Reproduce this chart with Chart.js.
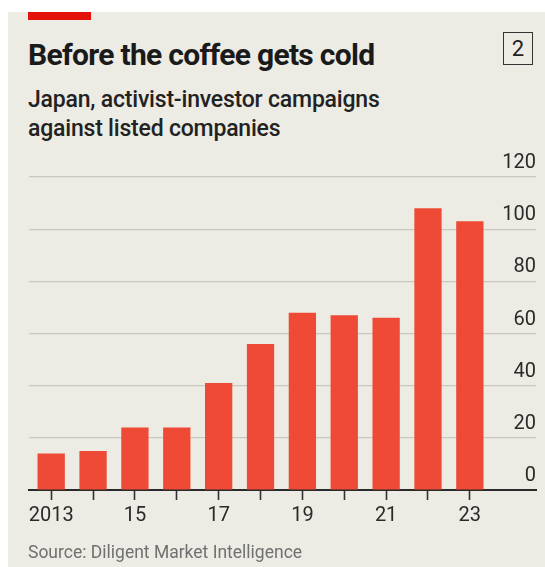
<!DOCTYPE html>
<html>
<head>
<meta charset="utf-8">
<script src="https://cdn.jsdelivr.net/npm/chart.js@4.4.1/dist/chart.umd.min.js"></script>
<style>
  html, body { margin: 0; padding: 0; background: #fff; }
  body { width: 545px; height: 567px; position: relative; overflow: hidden; font-family: Roboto, "Liberation Sans", sans-serif; }
  .panel { position: absolute; left: 8px; top: 12px; right: 0; bottom: 0; background: #ecebe4; }
  .tag { position: absolute; left: 28px; top: 12px; width: 63px; height: 8px; background: #e3120b; }
  .title { position: absolute; left: 28px; top: 37px; font-size: 30px; font-weight: 700; color: #1a1a1a; letter-spacing: -0.7px; white-space: nowrap; }
  .subtitle { position: absolute; left: 28px; top: 85px; font-size: 23px; font-weight: 500; color: #222; line-height: 29px; letter-spacing: -0.2px; white-space: nowrap; }
  .num { position: absolute; left: 503px; top: 32px; width: 28px; height: 31px; border: 1.6px solid #333; font-size: 22px; color: #222; text-align: center; line-height: 31px; }
  .source { position: absolute; left: 28px; top: 542px; font-size: 17.5px; color: #707070; white-space: nowrap; }
  #chart { position: absolute; left: 0; top: 0; }
</style>
</head>
<body>
<div class="panel"></div>
<div class="tag"></div>
<div class="title">Before the coffee gets cold</div>
<div class="num">2</div>
<div class="subtitle">Japan, activist-investor campaigns<br>against listed companies</div>
<canvas id="chart" width="545" height="567"></canvas>
<div class="source">Source: Diligent Market Intelligence</div>

<script>
// activist campaigns per year
const years = [2013, 2014, 2015, 2016, 2017, 2018, 2019, 2020, 2021, 2022, 2023];
const campaigns = [14, 15, 24, 24, 41, 56, 68, 67, 66, 108, 103];
const yTicks = [0, 20, 40, 60, 80, 100, 120];
const xTickLabels = ['2013', '', '15', '', '17', '', '19', '', '21', '', '23'];

const points = years.map((y, i) => ({ x: y, y: campaigns[i] }));

const ctx = document.getElementById('chart').getContext('2d');
new Chart(ctx, {
    type: 'bar',
    data: {
        datasets: [{
            data: points,
            backgroundColor: '#ee4a35',
            borderWidth: 0,
            categoryPercentage: 1,
            barPercentage: 0.652
        }]
    },
    options: {
        responsive: false,
        animation: false,
        layout: { padding: { left: 29, right: 9, top: 177, bottom: 0 } },
        plugins: { legend: { display: false }, tooltip: { enabled: false } },
        scales: {
            x: {
                type: 'linear',
                offset: false,
                min: 2012.47,
                max: 2024.58,
                afterBuildTicks: (axis) => { axis.ticks = years.map(v => ({ value: v })); },
                afterFit: (axis) => { axis.height = 77; },
                grid: {
                    display: true,
                    offset: false,
                    drawOnChartArea: false,
                    drawTicks: true,
                    tickLength: 10,
                    tickColor: '#333',
                    tickWidth: 1.6
                },
                border: { display: true, color: '#2a2a2a', width: 2 },
                ticks: {
                    autoSkip: false,
                    maxRotation: 0,
                    padding: 4,
                    color: '#2a2a2a',
                    font: { family: 'Roboto', size: 20 },
                    callback: (v) => xTickLabels[years.indexOf(v)] ?? ''
                }
            },
            y: {
                position: 'right',
                min: 0,
                max: 120,
                afterBuildTicks: (axis) => { axis.ticks = yTicks.map(v => ({ value: v })); },
                afterFit: (axis) => { axis.width = 0; },
                grid: { color: '#c9c7c0', lineWidth: 1.2, drawTicks: false },
                border: { display: false },
                ticks: {
                    mirror: true,
                    padding: 0,
                    labelOffset: -14,
                    color: '#2a2a2a',
                    font: { family: 'Roboto', size: 20 }
                }
            }
        }
    }
});
</script>
</body>
</html>
